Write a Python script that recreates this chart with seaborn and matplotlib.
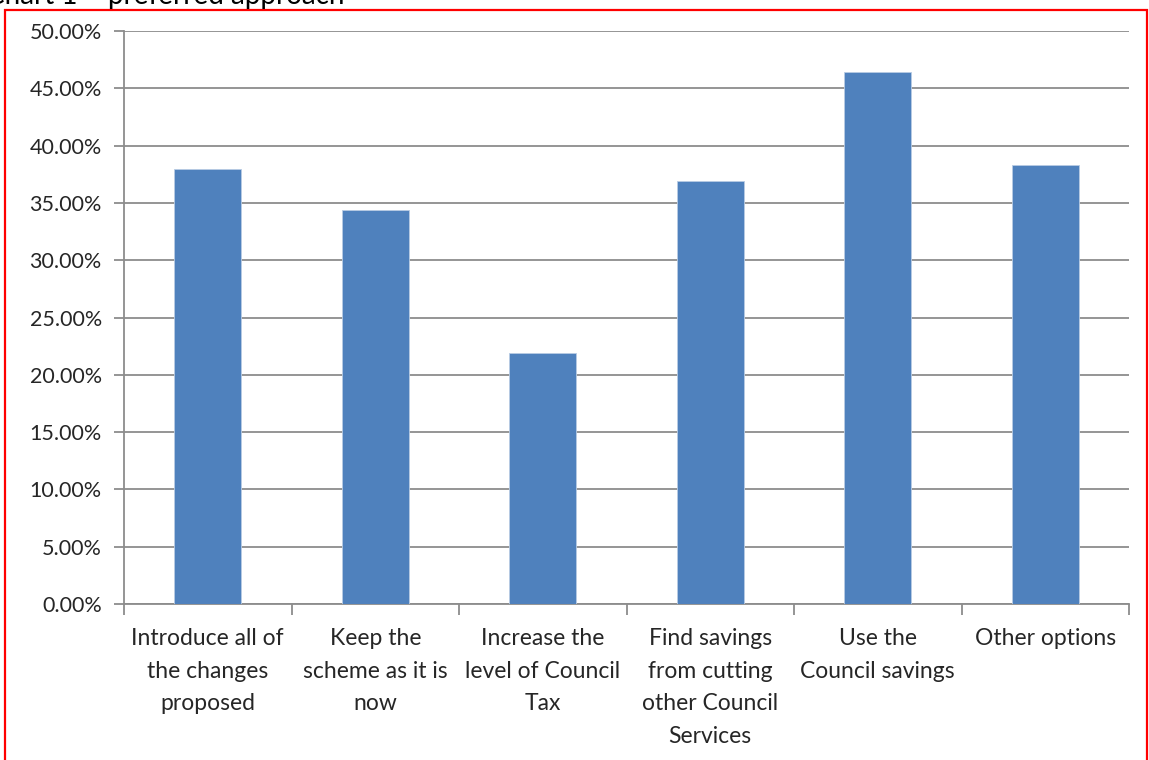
import numpy as np
import pandas as pd
import matplotlib
matplotlib.use("Agg")
import matplotlib.pyplot as plt
import seaborn as sns
from matplotlib.ticker import FixedLocator, PercentFormatter
from matplotlib.patches import Rectangle

# values
categories = ["Introduce all of the changes proposed",
              "Keep the scheme as it is now",
              "Increase the level of Council Tax",
              "Find savings from cutting other Council Services",
              "Use the Council savings",
              "Other options"]
tick_labels = ["Introduce all of\nthe changes\nproposed",
               "Keep the\nscheme as it is\nnow",
               "Increase the\nlevel of Council\nTax",
               "Find savings\nfrom cutting\nother Council\nServices",
               "Use the\nCouncil savings",
               "Other options"]
share = [0.380, 0.3435, 0.219, 0.3695, 0.4645, 0.3835]
y_ticks = [0.0, 0.05, 0.10, 0.15, 0.20, 0.25, 0.30, 0.35, 0.40, 0.45, 0.50]

df = pd.DataFrame({"option": categories, "share": share})

sns.set_theme(style="white")
plt.rcParams['font.family'] = ['Lato', 'DejaVu Sans']

W, H = 1149, 760
fig = plt.figure(figsize=(W / 100, H / 100), dpi=100)
ax = fig.add_axes([124 / W, 1 - 604 / H, (1129 - 124) / W, (604 - 31) / H])

sns.barplot(data=df, x="option", y="share", color="#4F81BD", width=0.4,
            saturation=1, ax=ax, zorder=3, edgecolor="#b8cce4", linewidth=0.6)

ax.set_xlim(-0.5, len(categories) - 0.5)
ax.set_ylim(0, 0.5)
ax.yaxis.set_major_locator(FixedLocator(y_ticks))
ax.yaxis.set_major_formatter(PercentFormatter(1.0, decimals=2))
ax.grid(axis="y", color="#8c8c8c", linewidth=1.3, zorder=0)
ax.set_axisbelow(True)

ax.set_xticks(range(len(categories)))
ax.set_xticklabels(tick_labels, fontsize=16.5, color="#262626", linespacing=1.7,
                   va="top")
ax.tick_params(axis="x", which="major", bottom=False, length=0, pad=17)
ax.set_xticks(np.arange(-0.5, len(categories)), minor=True)
ax.tick_params(axis="x", which="minor", bottom=True, length=8, width=1.3,
               color="#8c8c8c", direction="out")
ax.tick_params(axis="y", left=True, length=7, width=1.3, color="#8c8c8c",
               direction="out", labelsize=15.5, labelcolor="#262626", pad=9)
ax.set_xlabel("")
ax.set_ylabel("")

for side in ["top", "right"]:
    ax.spines[side].set_visible(False)
for side in ["left", "bottom"]:
    ax.spines[side].set_color("#8c8c8c")
    ax.spines[side].set_linewidth(1.3)

# heading cut off at the top of the screenshot
fig.text(345 / W, 1 - 4 / H, "Chart 1 \u2013 preferred approach", ha="right",
         va="baseline", fontsize=20, color="black")

# red frame around the chart area
fig.patches.append(Rectangle((5 / W, -0.05), (1147 - 5) / W, 1 - 10 / H + 0.05,
                             transform=fig.transFigure, fill=False,
                             edgecolor="#ff0000", linewidth=1.6))

fig.savefig("out.png", dpi=100)
